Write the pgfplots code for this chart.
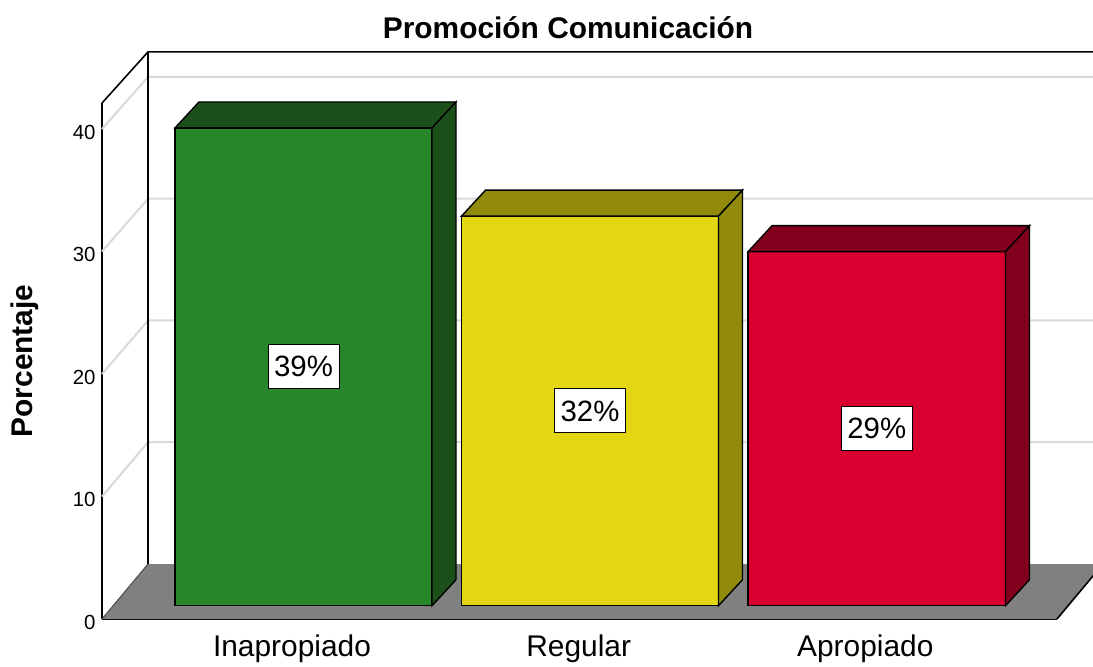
\documentclass[border=0pt]{standalone}
\usepackage{fontspec}
\setmainfont{Liberation Sans}
\usepackage{pgfplots}
\pgfplotsset{compat=1.18}
\definecolor{gF}{RGB}{40,134,42}
\definecolor{gD}{RGB}{27,80,27}
\definecolor{yF}{RGB}{227,214,18}
\definecolor{yD}{RGB}{145,138,12}
\definecolor{rF}{RGB}{216,0,48}
\definecolor{rD}{RGB}{130,0,30}
\definecolor{gridc}{RGB}{217,217,217}
\definecolor{floorc}{RGB}{128,128,128}
\begin{document}
\begin{tikzpicture}
\begin{axis}[
  x=1bp, y=12.25bp,
  xmin=102, xmax=1057, ymin=0, ymax=42.12,
  enlargelimits=false, clip=false,
  axis lines*=left,
  axis line style={line width=1.6bp, black},
  xtick={292,578.7,865.3},
  xticklabels={Inapropiado,Regular,Apropiado},
  ytick={0,10,20,30,40},
  major tick length=0pt,
  /pgf/number format/assume math mode=true,
  yticklabel style={font=\fontsize{20.5}{24}\selectfont, anchor=east, xshift=-3bp, yshift=-3bp},
  xticklabel style={font=\fontsize{30}{36}\selectfont, anchor=base, yshift=-37bp},
  title={Promoción Comunicación},
  title style={at={(axis description cs:0.488,1.128)}, anchor=base, yshift=-7bp, font=\fontsize{30}{36}\selectfont\bfseries},
  ylabel={Porcentaje},
  every axis y label/.style={at={(axis description cs:-0.0805,0.5)}, rotate=90, anchor=center, font=\fontsize{30}{36}\selectfont\bfseries},
]
% gridlines on side and back walls
\addplot[gridc, line width=2bp] coordinates {(102,10) (148,14.43) (1110,14.43)};
\addplot[gridc, line width=2bp] coordinates {(102,20) (148,24.37) (1110,24.37)};
\addplot[gridc, line width=2bp] coordinates {(102,30) (148,34.31) (1110,34.31)};
\addplot[gridc, line width=2bp] coordinates {(102,40) (148,44.25) (1110,44.25)};
% floor
\addplot[fill=floorc, draw=none] coordinates {(102,0) (1057,0) (1103,4.49) (148,4.49)} -- cycle;
\addplot[black!70, line width=1bp] coordinates {(102,0) (148,4.49)};
\addplot[black, line width=1.6bp] coordinates {(1057,0) (1103,4.49)};
% wall frame
\addplot[black, line width=1.6bp] coordinates {(148,4.49) (148,46.29)};
\addplot[black, line width=1.6bp] coordinates {(102,42.12) (148,46.29) (1110,46.29)};
% bar 1 (39.0)
\addplot[fill=gF, draw=black, line width=1.4bp] coordinates {(175,1.086) (432,1.086) (432,40.086) (175,40.086)} -- cycle;
\addplot[fill=gD, draw=black, line width=1.4bp] coordinates {(175,40.086) (432,40.086) (456,42.208) (199,42.208)} -- cycle;
\addplot[fill=gD, draw=black, line width=1.4bp] coordinates {(432,1.086) (456,3.208) (456,42.208) (432,40.086)} -- cycle;
% bar 2 (31.8)
\addplot[fill=yF, draw=black, line width=1.4bp] coordinates {(461.5,1.086) (718.5,1.086) (718.5,32.886) (461.5,32.886)} -- cycle;
\addplot[fill=yD, draw=black, line width=1.4bp] coordinates {(461.5,32.886) (718.5,32.886) (742.5,35.008) (485.5,35.008)} -- cycle;
\addplot[fill=yD, draw=black, line width=1.4bp] coordinates {(718.5,1.086) (742.5,3.208) (742.5,35.008) (718.5,32.886)} -- cycle;
% bar 3 (28.9)
\addplot[fill=rF, draw=black, line width=1.4bp] coordinates {(748,1.086) (1005.5,1.086) (1005.5,29.986) (748,29.986)} -- cycle;
\addplot[fill=rD, draw=black, line width=1.4bp] coordinates {(748,29.986) (1005.5,29.986) (1029.5,32.108) (772,32.108)} -- cycle;
\addplot[fill=rD, draw=black, line width=1.4bp] coordinates {(1005.5,1.086) (1029.5,3.208) (1029.5,32.108) (1005.5,29.986)} -- cycle;
% value labels
\tikzset{vlab/.style={fill=white, draw=black, line width=1bp, minimum width=71bp, minimum height=44bp, inner sep=0pt, font=\fontsize{29.5}{34}\selectfont}}
\node[vlab] at (axis cs:303.5,20.586) {39\%};
\node[vlab] at (axis cs:590,16.986) {32\%};
\node[vlab] at (axis cs:876.75,15.536) {29\%};
\coordinate (bbtl) at (axis cs:0,50.531);
\coordinate (bbbr) at (axis cs:1093,-3.837);
\end{axis}
\pgfresetboundingbox
\path[use as bounding box] (bbtl) rectangle (bbbr);
\end{tikzpicture}
\end{document}
